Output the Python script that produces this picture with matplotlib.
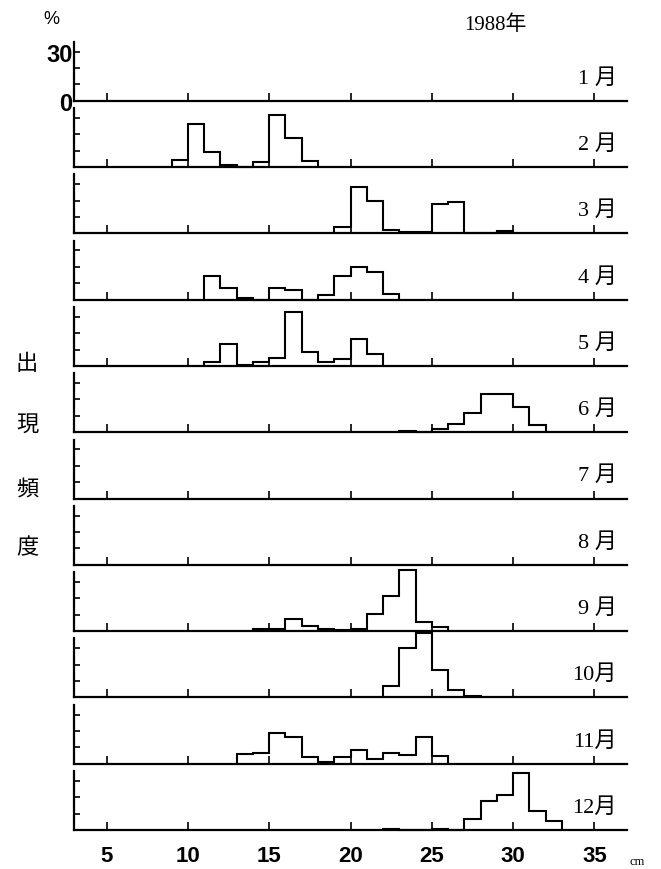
import matplotlib
matplotlib.use("Agg")
import matplotlib.pyplot as plt
import numpy as np

# ---- data (percent frequency per 1-cm length class) ----
months = ["1 月", "2 月", "3 月", "4 月", "5 月", "6 月", "7 月", "8 月", "9 月", "10月", "11月", "12月"]

jan_start = 3
jan = []
feb_start = 9
feb = [4.5, 26, 9, 1.5, 0, 3, 32, 18, 3.5]
mar_start = 19
mar = [4, 28, 20, 2, 1, 0.5, 18, 19, 0, 0, 1.5]
apr_start = 11
apr = [14.5, 7, 1, 0, 7, 6, 0, 3, 14.5, 20, 17, 3.5]
may_start = 11
may = [2.5, 13.5, 0.5, 2.5, 5, 33, 8.5, 2.5, 4.5, 16.5, 7]
jun_start = 23
jun = [1, 0, 2, 5, 12, 23.5, 23.5, 15.5, 4.3]
jul_start = 3
jul = []
aug_start = 3
aug = []
sep_start = 14
sep = [1, 1, 7.2, 3.1, 1, 0.5, 1.5, 10.7, 21.5, 37, 5.6, 2.5]
oct_start = 22
octo = [6.8, 30, 39.5, 17, 4.8, 1]
nov_start = 13
nov = [6, 6.5, 18.6, 16, 4.1, 1, 4.1, 8.3, 3.1, 6.6, 5.6, 16, 4.5]
dec_start = 22
dec = [0.5, 0, 0, 0.5, 0, 7, 17.4, 21.5, 34.5, 11.8, 5.2]

series = [(jan_start, jan), (feb_start, feb), (mar_start, mar), (apr_start, apr),
          (may_start, may), (jun_start, jun), (jul_start, jul), (aug_start, aug),
          (sep_start, sep), (oct_start, octo), (nov_start, nov), (dec_start, dec)]

xticks = [5, 10, 15, 20, 25, 30, 35]
xticklabels = ["5", "10", "15", "20", "25", "30", "35"]
yticks = [10, 20, 30]

# ---- layout ----
W, H = 661, 870
fig = plt.figure(figsize=(W / 100, H / 100), dpi=100)
left_px, right_px = 74, 627
base0, step = 101.7, 66.3
ax_h = 59

num_font = ["Liberation Sans", "DejaVu Sans"]
serif_cjk = ["Liberation Serif", "Noto Sans CJK JP", "DejaVu Sans"]

axes = []
for k, (start, vals) in enumerate(series):
    yb = base0 + step * k
    ax = fig.add_axes([left_px / W, 1 - yb / H, (right_px - left_px) / W, ax_h / H])
    ax.set_xlim(3, 37)
    ax.set_ylim(0, 36)
    for s in ["top", "right"]:
        ax.spines[s].set_visible(False)
    ax.spines["left"].set_linewidth(1.6)
    ax.spines["bottom"].set_linewidth(1.6)
    ax.set_xticks(xticks)
    ax.tick_params(axis="x", direction="in", length=6, width=1.2)
    ax.tick_params(axis="y", direction="in", length=4, width=1.2)
    if k == 0:
        ax.set_yticks([0] + yticks)
        ax.set_yticklabels(["0", "", "", "30"], fontsize=17, fontweight="bold",
                           family=num_font)
        ax.tick_params(axis="y", pad=1)
    else:
        ax.set_yticks(yticks)
        ax.set_yticklabels([])
    if k == len(series) - 1:
        ax.set_xticklabels(xticklabels, fontsize=16, fontweight="bold", family=num_font)
        ax.tick_params(axis="x", pad=11)
    else:
        ax.set_xticklabels([])
    if len(vals) > 0:
        edges = np.arange(start, start + len(vals) + 1)
        ax.stairs(vals, edges, baseline=0, fill=False, color="black",
                  linewidth=1.5, clip_on=False)
    ax.text(617 / W, 1 - (yb - 23) / H, months[k], transform=fig.transFigure,
            ha="right", va="center", fontsize=16, family=serif_cjk)
    axes.append(ax)

fig.text(51 / W, 1 - 19 / H, "%", ha="center", va="center", fontsize=13,
         family=num_font)
fig.text(495 / W, 1 - 25 / H, "1988年", ha="center", va="center", fontsize=15,
         family=serif_cjk)
fig.text(637 / W, 1 - 862 / H, "cm", ha="center", va="center", fontsize=9,
         family=serif_cjk)
for ch, y in zip("出現頻度", [363, 425, 490, 548]):
    fig.text(27 / W, 1 - y / H, ch, ha="center", va="center", fontsize=16,
             family=["Noto Sans CJK JP"])

fig.savefig("out.png", dpi=100, facecolor="white")
